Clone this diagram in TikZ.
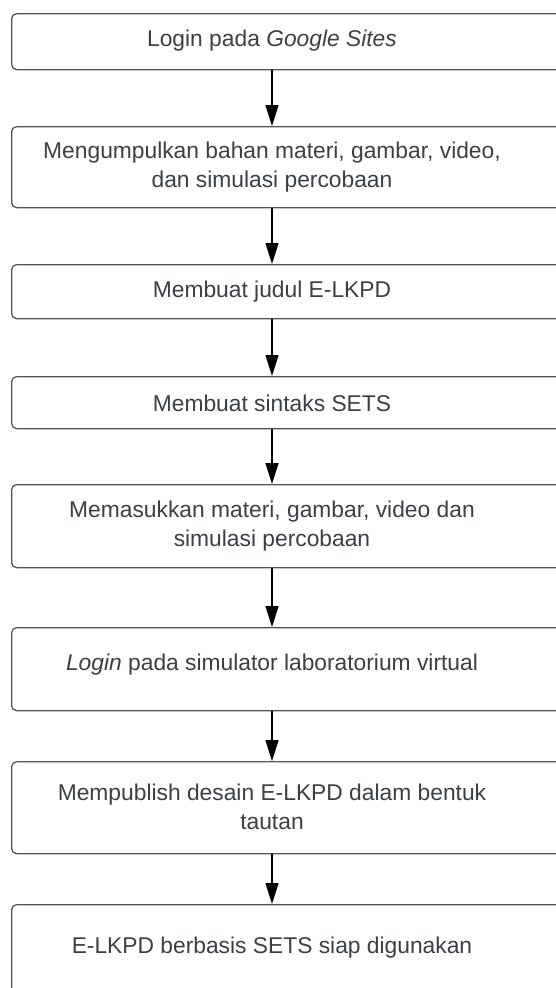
\documentclass[tikz,border=0pt]{standalone}
\usepackage{fontspec}
\setmainfont{Liberation Sans}
\usetikzlibrary{arrows.meta}
\definecolor{txt}{HTML}{3B4046}
\definecolor{edge}{HTML}{555555}
\begin{document}
\begin{tikzpicture}[x=1pt,y=-1pt,
  box/.style={draw=edge, line width=1.3pt, rounded corners=5pt, minimum width=620pt, anchor=north west, inner sep=0pt},
  lbl/.style={text=txt, font=\fontsize{22.8}{28.5}\selectfont, align=center, inner sep=0pt},
  flow/.style={-{Triangle[length=21pt,width=13pt]}, line width=1.4pt, black}]
\useasboundingbox (0,0) rectangle (556,988);
\clip (0,0) rectangle (556,988);
\fill[white] (0,0) rectangle (556,988);

\node[box, minimum height=56pt] (b1) at (11,13) {};
\node[box, minimum height=81pt] (b2) at (11,126) {};
\node[box, minimum height=54pt] (b3) at (11,264) {};
\node[box, minimum height=52pt] (b4) at (11,376) {};
\node[box, minimum height=83pt] (b5) at (11,484) {};
\node[box, minimum height=83pt] (b6) at (11,627) {};
\node[box, minimum height=92pt] (b7) at (11,761) {};
\node[box, minimum height=120pt] (b8) at (11,904) {};

\node[lbl] (t1) at (272,41) {Login pada \textit{Google Sites}};
\node[lbl] (t2) at (272,167) {Mengumpulkan bahan materi, gambar, video,\\dan simulasi percobaan};
\node[lbl] (t3) at (272,292) {Membuat judul E-LKPD};
\node[lbl] (t4) at (272,403) {Membuat sintaks SETS};
\node[lbl] (t5) at (272,526) {Memasukkan materi, gambar, video dan\\simulasi percobaan};
\node[lbl] (t6) at (272,665) {\textit{Login} pada simulator laboratorium virtual};
\node[lbl] (t7) at (272,807) {Mempublish desain E-LKPD dalam bentuk\\tautan};
\node[lbl] (t8) at (272,948) {E-LKPD berbasis SETS siap digunakan};

\draw[flow] (t1 |- b1.south) -- (t1 |- b2.north);
\draw[flow] (t2 |- b2.south) -- (t2 |- b3.north);
\draw[flow] (t3 |- b3.south) -- (t3 |- b4.north);
\draw[flow] (t4 |- b4.south) -- (t4 |- b5.north);
\draw[flow] (t5 |- b5.south) -- (t5 |- b6.north);
\draw[flow] (t6 |- b6.south) -- (t6 |- b7.north);
\draw[flow] (t7 |- b7.south) -- (t7 |- b8.north);
\end{tikzpicture}
\end{document}
